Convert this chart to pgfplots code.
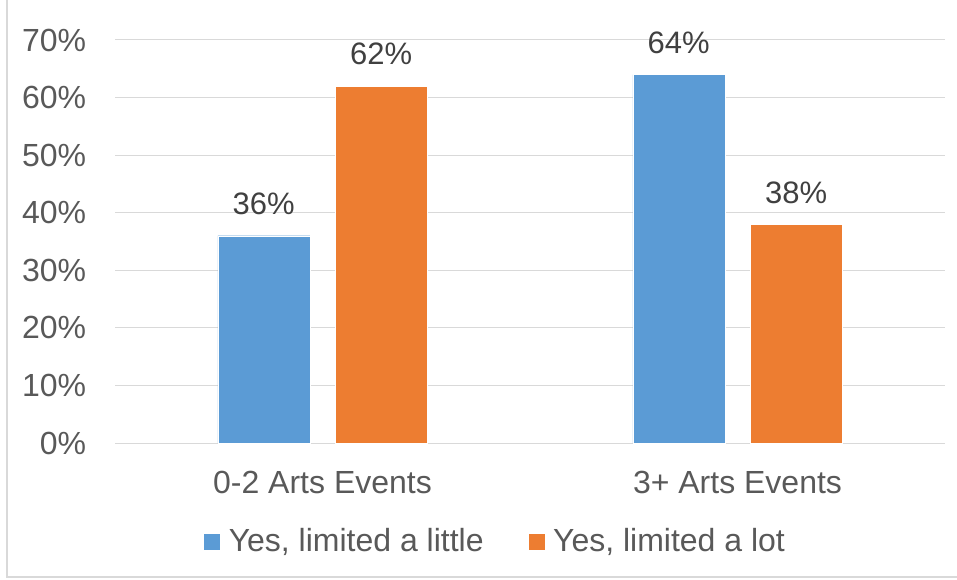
\documentclass[border=0pt]{standalone}
\usepackage{fontspec}
\setmainfont{Liberation Sans}
\usepackage{pgfplots}
\pgfplotsset{compat=1.18}
\definecolor{cblue}{HTML}{5B9BD5}
\definecolor{corange}{HTML}{ED7D31}
\definecolor{ctext}{HTML}{595959}
\definecolor{clab}{HTML}{404040}
\definecolor{cgrid}{HTML}{D9D9D9}
\begin{document}
\begin{tikzpicture}[x=1pt,y=1pt]
\fontsize{32}{38}\selectfont
\useasboundingbox (0,0) rectangle (957,579);
\draw[cgrid, line width=1.5pt] (7,579) -- (7,2) -- (957,2);
\begin{axis}[
  at={(115pt,136pt)}, anchor=south west,
  scale only axis, width=830pt, height=403pt,
  xmin=-0.5, xmax=1.5, ymin=0, ymax=70,
  ytick={0,10,...,70},
  yticklabel={\pgfmathprintnumber{\tick}\%},
  /pgf/number format/assume math mode=true,
  xtick={0,1}, xticklabels={0-2 Arts Events, 3+ Arts Events},
  major tick length=0pt,
  axis line style={draw=none},
  ymajorgrids, grid style={cgrid, line width=1pt},
  tick label style={font=\fontsize{32}{38}\selectfont, text=ctext},
  yticklabel style={xshift=-18pt},
  xticklabel style={yshift=-17pt},
  ybar, bar width=92pt,
  nodes near coords={\pgfmathprintnumber{\pgfplotspointmeta}\%},
  nodes near coords style={font=\fontsize{31}{36}\selectfont, text=clab, yshift=10pt},
  legend style={at={(0.458,-0.246)}, anchor=center, draw=none, legend columns=2,
    font=\fontsize{32}{38}\selectfont, text=ctext,
    /tikz/every even column/.append style={column sep=42pt}},
  legend image code/.code={\fill[#1] (0pt,-8.5pt) rectangle (17pt,8.5pt); \path (23pt,0pt);},
]
\addplot[fill=cblue, draw=white, bar shift=-58.75pt] coordinates {(0,36) (1,64)};
\addplot[fill=corange, draw=white, bar shift=58.75pt] coordinates {(0,62) (1,38)};
\legend{{Yes, limited a little}, {Yes, limited a lot}}
\end{axis}
\end{tikzpicture}
\end{document}
